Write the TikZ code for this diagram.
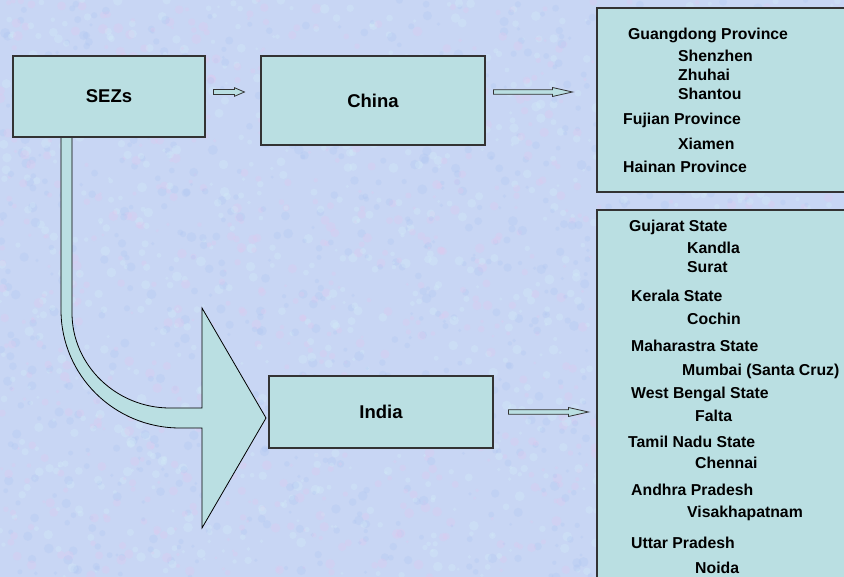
\documentclass[tikz,border=0pt]{standalone}
\usepackage{fontspec}
\setmainfont{Liberation Sans}
\usetikzlibrary{calc}

\definecolor{bgbase}{HTML}{C8D6F4}
\definecolor{bgpink}{HTML}{E2C8EE}
\definecolor{bgblue}{HTML}{AFC6F2}
\definecolor{bgcyan}{HTML}{D4EEF8}
\definecolor{boxfill}{HTML}{BADFE2}
\definecolor{boxline}{HTML}{333333}

% flat block arrow: #1 tail, #2 tip, #3 shaft half-width, #4 head half-width, #5 head length
\newcommand\flatarrow[5]{%
  \path[blockarrow] let \p1=(#1), \p2=(#2) in
    (\x1,{\y1+#3}) -- ({\x2-#5},{\y1+#3}) -- ({\x2-#5},{\y1+#4}) --
    (\x2,\y1) --
    ({\x2-#5},{\y1-#4}) -- ({\x2-#5},{\y1-#3}) -- (\x1,{\y1-#3}) -- cycle;
}

\begin{document}
\begin{tikzpicture}[x=1pt,y=-1pt,
  box/.style={draw=boxline, fill=boxfill, line width=1.1pt, inner sep=0pt,
              font=\bfseries\fontsize{18.5}{20}\selectfont},
  listbox/.style={draw=boxline, fill=boxfill, line width=1.1pt, inner sep=0pt},
  item/.style={anchor=base west, inner sep=0pt,
               font=\bfseries\fontsize{15.8}{17}\selectfont},
  blockarrow/.style={draw=boxline, fill=boxfill, line width=0.8pt, line join=miter},
  bigarrow/.style={draw=black, fill=boxfill, line width=0.8pt, line join=miter}]

\useasboundingbox (0,0) rectangle (844,577);
\clip (0,0) rectangle (844,577);

% mottled backdrop
\fill[bgbase] (0,0) rectangle (844,577);
\pgfmathsetseed{42}
\foreach \i in {1,...,3000}{
  \pgfmathsetmacro\bx{rnd*844}
  \pgfmathsetmacro\by{rnd*577}
  \pgfmathsetmacro\br{1.5+rnd*3.5}
  \pgfmathtruncatemacro\bc{mod(\i,3)}
  \ifcase\bc \def\bcol{bgpink}\or\def\bcol{bgblue}\else\def\bcol{bgcyan}\fi
  \fill[\bcol, opacity=0.3] (\bx,\by) circle[radius=\br pt];
}

% curved arrow from SEZs down to India
\path[bigarrow] (61,137) -- (61,310)
  .. controls (61,375) and (114,428) .. (180,428)
  -- (202,428) -- (202,528) -- (266,418) -- (202,308) -- (202,408) -- (170,408)
  .. controls (116,408) and (72,365) .. (72,313)
  -- (72,137) -- cycle;

% main boxes
\node[box, minimum width=192pt, minimum height=81pt] (sez) at (109,96.5) {SEZs};
\node[box, minimum width=224pt, minimum height=89pt] (china) at (373,100.5) {China};
\node[box, minimum width=224pt, minimum height=72pt] (india) at (381,412) {India};

% list panels (running off the right/bottom edge)
\node[listbox, minimum width=253pt, minimum height=184pt] (chinalist) at (723.5,100) {};
\node[listbox, minimum width=253pt, minimum height=380pt] (indialist) at (723.5,400) {};

% block arrows between boxes
\coordinate (a1s) at ($(sez.east)+(8,-4.5)$);
\coordinate (a1e) at ($(china.west)+(-16,-8.5)$);
\flatarrow{a1s}{a1e}{2.5}{4.3}{10}

\coordinate (a2s) at ($(china.east)+(8,-8.5)$);
\coordinate (a2e) at ($(chinalist.west)+(-24,-8)$);
\flatarrow{a2s}{a2e}{2.3}{4.5}{20}

\coordinate (a3s) at ($(india.east)+(15,0)$);
\coordinate (a3e) at ($(indialist.west)+(-8,12)$);
\flatarrow{a3s}{a3e}{2.3}{4.5}{20}

% China zones
\foreach \x/\y/\t [count=\n] in {
  628/34/Guangdong Province,
  678/56/Shenzhen,
  678/75/Zhuhai,
  678/94/Shantou,
  623/119/Fujian Province,
  678/144/Xiamen,
  623/167/Hainan Province}
  \node[item] (c\n) at (\x,{\y+5.5}) {\t};

% India zones
\foreach \x/\y/\t [count=\n] in {
  629/226/Gujarat State,
  687/248/Kandla,
  687/267/Surat,
  631/296/Kerala State,
  687/319/Cochin,
  631/346/Maharastra State,
  682/370/Mumbai (Santa Cruz),
  631/393/West Bengal State,
  695/416/Falta,
  628/442/Tamil Nadu State,
  695/463/Chennai,
  631/490/Andhra Pradesh,
  687/512/Visakhapatnam,
  631/543/Uttar Pradesh,
  695/568/Noida}
  \node[item] (i\n) at (\x,{\y+5.5}) {\t};

\end{tikzpicture}
\end{document}
